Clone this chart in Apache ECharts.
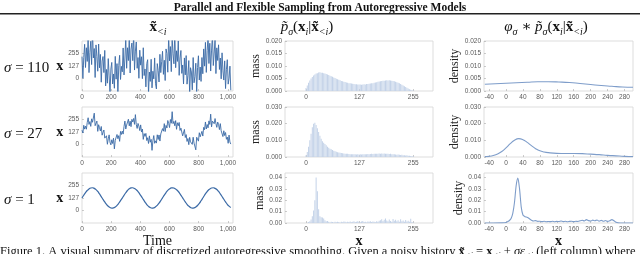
<!DOCTYPE html>
<html><head><meta charset="utf-8">
<script src="https://cdn.jsdelivr.net/npm/echarts@6/dist/echarts.min.js"></script>
<style>html,body{margin:0;padding:0;background:#fff}#c{width:640px;height:254px}</style>
</head><body><div id="c"></div><script>
// ---------- data ----------
const sigmaLabels = ['110', '27', '1'];
const timeStepNoisy = 6;   // time between samples of the noisy histories
const timeStepSmooth = 12; // time between samples of the sigma=1 history
const timeTicks = [0, 200, 400, 600, 800, 1000];
const valueTicks = [0, 127, 255];
const massXTicks = [0, 127, 255];
const densXTicks = [-40, 0, 40, 80, 120, 160, 200, 240, 280];

const history110 = [223,2,216,349,112,314,174,423,60,266,380,142,492,210,306,10,343,224,74,352,109,246,-38,178,224,60,287,-76,92,-48,203,26,-160,96,164,-56,46,-100,226,-7,152,-158,134,237,-10,124,
68,312,36,209,412,104,314,183,410,56,300,362,182,470,86,280,373,104,214,2,289,136,222,-2,314,30,97,-86,152,192,-157,66,-30,196,-96,74,-4,210,-54,-107,152,82,-36,247,60,174,
278,42,186,-21,302,254,64,433,180,326,70,412,252,150,476,110,283,174,384,32,209,286,52,138,-56,210,37,234,-58,32,183,-164,110,66,-116,214,-44,20,156,-137,112,232,-16,117,-30,214,
48,302,126,369,62,284,434,153,360,76,290,442,132,260,406,50,313,184,344,92,209,-4,262,78,-16,180,-103,94,192,-58,3,126,-120];
const history27 = [146,117,196,157,187,156,226,273,205,234,185,262,227,242,320,192,203,239,134,202,172,138,184,95,124,148,65,68,89,2,58,98,22,-4,48,10,64,-45,43,23,102,59,90,32,133,102,
137,106,184,239,158,198,188,258,190,238,182,257,230,266,206,305,204,164,215,188,142,200,127,158,52,111,83,113,40,69,10,88,23,52,-60,38,91,12,37,14,99,51,97,35,108,93,
162,136,213,132,195,169,245,215,173,255,217,335,213,236,191,244,155,222,192,225,143,167,178,88,106,154,71,101,31,61,-2,73,27,45,1,74,14,34,-55,74,67,34,120,78,80,134,
86,175,151,230,158,204,170,241,205,310,180,239,254,212,265,213,175,229,206,152,213,140,147,81,140,91,122,53,76,12,96,25,4];
const history1 = [128,156,182,204,220,230,232,226,213,194,169,142,114,87,62,43,30,24,26,36,52,74,100,
127,155,181,204,221,231,232,225,212,193,168,141,113,86,61,42,30,25,27,37,53,75,101,
129,157,183,205,220,230,231,225,212,194,170,143,115,88,63,44,31,24,26,35,51,73,99,
127,156,182,204,219,230,232,226,214,195,170,143,115,88,63,44,31];

const massBinStep = 3; // histogram bins shown every 3 values of x, starting at 0
const mass110 = [0.0012,0.0022,0.0033,0.0042,0.0050,0.0056,0.0062,0.0066,0.0070,0.0071,
0.0074,0.0075,0.0073,0.0073,0.0071,0.0070,0.0068,0.0066,0.0064,0.0061,
0.0059,0.0057,0.0054,0.0052,0.0049,0.0047,0.0045,0.0043,0.0040,0.0039,
0.0037,0.0036,0.0034,0.0033,0.0031,0.0031,0.0030,0.0029,0.0028,0.0027,
0.0027,0.0026,0.0026,0.0026,0.0025,0.0026,0.0027,0.0026,0.0028,0.0028,
0.0029,0.0030,0.0031,0.0031,0.0033,0.0034,0.0035,0.0037,0.0038,0.0039,
0.0040,0.0041,0.0041,0.0042,0.0043,0.0042,0.0043,0.0042,0.0041,0.0040,
0.0039,0.0037,0.0035,0.0033,0.0031,0.0028,0.0025,0.0022,0.0019,0.0016,
0.0013,0.0010,0.0007,0.0005,0.0003,0.0002];
const mass27 = [0.0010,0.0030,0.0062,0.0100,0.0140,0.0178,0.0200,0.0206,0.0192,0.0172,
0.0150,0.0128,0.0110,0.0095,0.0085,0.0078,0.0070,0.0062,0.0056,0.0050,
0.0046,0.0042,0.0038,0.0034,0.0031,0.0029,0.0027,0.0025,0.0024,0.0022,
0.0021,0.0020,0.0019,0.0019,0.0018,0.0017,0.0017,0.0016,0.0017,0.0016,
0.0015,0.0016,0.0015,0.0016,0.0015,0.0016,0.0017,0.0016,0.0017,0.0018,
0.0017,0.0018,0.0019,0.0018,0.0019,0.0020,0.0019,0.0020,0.0021,0.0020,
0.0021,0.0020,0.0021,0.0020,0.0019,0.0020,0.0018,0.0019,0.0017,0.0016,
0.0017,0.0015,0.0014,0.0015,0.0013,0.0012,0.0013,0.0011,0.0010,0.0009,
0.0010,0.0008,0.0007,0.0006,0.0005,0.0004];
const mass1 = [0,0.0003,0.0008,0.0015,0.0030,0.0060,0.0110,0.0200,0.0400,0.0280,
0.0120,0.0060,0.0050,0.0048,0.0040,0.0025,0.0015,0.0018,0.0010,0.0005,
0.0012,0.0008,0.0004,0.0010,0.0006,0.0012,0.0009,0.0003,0.0011,0.0007,
0.0013,0.0010,0.0005,0.0012,0.0009,0.0014,0.0006,0.0011,0.0015,0.0008,
0.0012,0.0016,0.0010,0.0006,0.0013,0.0017,0.0009,0.0012,0.0005,0.0014,
0.0011,0.0016,0.0008,0.0013,0.0010,0.0006,0.0015,0.0011,0.0019,0.0025,
0.0033,0.0018,0.0028,0.0040,0.0022,0.0015,0.0030,0.0018,0.0012,0.0035,
0.0020,0.0028,0.0015,0.0024,0.0012,0.0032,0.0016,0.0022,0.0010,0.0026,
0.0014,0.0020,0.0012,0.0038,0.0008,0.0004];

const densX110 = [-50,-25,0,25,50,75,100,125,150,175,200,225,250,275,300];
const density110 = [0.0027,0.0029,0.0031,0.0033,0.0035,0.0037,0.0037,0.0036,0.0034,0.0030,0.0026,0.0022,0.0019,0.0016,0.0015];
const densX27 = [-50,-40,-30,-20,-10,0,10,20,30,40,50,60,70,80,90,100,120,140,160,180,200,220,240,260,280,300];
const density27 = [0.0002,0.0004,0.0009,0.0018,0.0033,0.0055,0.0080,0.0101,0.0110,0.0104,0.0088,0.0068,0.0050,0.0037,0.0030,0.0026,0.0022,0.0021,0.0021,0.0020,0.0017,0.0014,0.0010,0.0007,0.0004,0.0002];
const densX1 = [-50,-30,-10,0,4,8,12,16,20,24,28,32,36,40,44,48,52,56,60,65,70,75,80,85,90,95,100,105,110,115,120,125,130,135,140,145,150,155,160,165,170,175,180,185,190,195,200,205,210,215,220,225,230,235,240,245,250,255,260,265,270,285,300];
const density1 = [0,0,0.0001,0.0004,0.0012,0.0022,0.0040,0.0085,0.0180,0.0330,0.0395,0.0300,0.0140,0.0070,0.0058,0.0052,0.0047,0.0035,0.0025,0.0018,0.0021,0.0014,0.0016,0.0012,0.0015,0.0011,0.0013,0.0012,0.0015,0.0011,0.0014,0.0013,0.0017,0.0012,0.0015,0.0011,0.0014,0.0016,0.0012,0.0015,0.0013,0.0019,0.0024,0.0018,0.0030,0.0021,0.0017,0.0025,0.0020,0.0026,0.0016,0.0023,0.0015,0.0022,0.0014,0.0019,0.0030,0.0020,0.0006,0.0001,0,0,0];

// ---------- layout / style ----------
const serif = '"Liberation Serif","DejaVu Serif",serif';
const sans = '"Liberation Sans",Arial,sans-serif';
const colLeft = [82, 285, 484], colW = [151, 148, 149];
const rowTop = [41, 107, 173], rowH = 50;
const lineBlue = '#3b6aa6';
const barBlue = '#c3d2e8';
const densBlue = '#7e9dca';
const tickLabel = {fontSize: 6.5, color: '#5a5a5a', fontFamily: sans, margin: 3};

const grids = [], xAxes = [], yAxes = [], series = [];
const histories = [history110, history27, history1];
const historySteps = [timeStepNoisy, timeStepNoisy, timeStepSmooth];
const masses = [mass110, mass27, mass1];
const densXs = [densX110, densX27, densX1];
const dens = [density110, density27, density1];
const yMaxProb = [0.020, 0.030, 0.044];
const yTickProb = [[0,0.005,0.010,0.015,0.020],[0,0.010,0.020,0.030],[0,0.01,0.02,0.03,0.04]];
const yDigits = [3, 3, 2];

function fmtThousands(v){ return v >= 1000 ? Math.floor(v/1000) + ',' + String(v%1000).padStart(3,'0') : String(v); }

for (let r = 0; r < 3; r++) {
  for (let c = 0; c < 3; c++) {
    const gi = r*3 + c;
    grids.push({left: colLeft[c], top: rowTop[r], width: colW[c], height: rowH, show: true,
      borderColor: '#d4d4d4', borderWidth: 0.8, backgroundColor: 'transparent'});
    const base = {gridIndex: gi, type: 'value', axisLine: {show: false, onZero: false}, splitLine: {show: false},
      axisTick: {show: true, inside: true, length: 2, lineStyle: {color: '#aaa', width: 0.6}}};
    let xa, ya;
    if (c === 0) {
      xa = Object.assign({}, base, {min: 0, max: 1035,
        axisLabel: Object.assign({}, tickLabel, {customValues: timeTicks, formatter: fmtThousands}),
        axisTick: Object.assign({}, base.axisTick, {customValues: timeTicks})});
      ya = Object.assign({}, base, {min: -128, max: 383,
        axisLabel: Object.assign({}, tickLabel, {customValues: valueTicks}),
        axisTick: Object.assign({}, base.axisTick, {customValues: valueTicks}),
        name: 'x', nameLocation: 'middle', nameRotate: 0, nameGap: 10,
        nameTextStyle: {fontFamily: serif, fontWeight: 'bold', fontSize: 14, color: '#111'}});
      if (r === 2) Object.assign(xa, {name: 'Time', nameLocation: 'middle', nameGap: 9,
        nameTextStyle: {fontFamily: serif, fontSize: 14, color: '#111', verticalAlign: 'top'}});
      series.push({type: 'line', xAxisIndex: gi, yAxisIndex: gi, showSymbol: false, animation: false,
        clip: true, data: histories[r].map((v, i) => [i*historySteps[r], v]),
        lineStyle: {color: lineBlue, width: r === 2 ? 1.2 : 1.0, opacity: r === 2 ? 1 : 0.9},
        itemStyle: {color: lineBlue}, smooth: r === 2});
    } else {
      const isMass = c === 1;
      const xt = isMass ? massXTicks : densXTicks;
      xa = Object.assign({}, base, {min: isMass ? -50 : -52, max: isMass ? 302 : 300,
        axisLabel: Object.assign({}, tickLabel, {customValues: xt}),
        axisTick: Object.assign({}, base.axisTick, {customValues: xt})});
      const dg = yDigits[r];
      ya = Object.assign({}, base, {min: 0, max: yMaxProb[r],
        axisLabel: Object.assign({}, tickLabel, {customValues: yTickProb[r], formatter: v => v.toFixed(dg)}),
        axisTick: Object.assign({}, base.axisTick, {customValues: yTickProb[r]}),
        name: isMass ? 'mass' : 'density', nameLocation: 'middle', nameRotate: 90, nameGap: isMass ? 19 : 17,
        nameTextStyle: {fontFamily: serif, fontSize: 12, color: '#222'}});
      if (r === 2) Object.assign(xa, {name: 'x', nameLocation: 'middle', nameGap: 9,
        nameTextStyle: {fontFamily: serif, fontWeight: 'bold', fontSize: 14, color: '#111', verticalAlign: 'top'}});
      if (isMass) {
        series.push({type: 'bar', xAxisIndex: gi, yAxisIndex: gi, animation: false, barWidth: 1,
          data: masses[r].map((v, i) => [i*massBinStep, v]), itemStyle: {color: barBlue}});
      } else {
        series.push({type: 'line', xAxisIndex: gi, yAxisIndex: gi, showSymbol: false, animation: false,
          smooth: r === 2 ? 0.25 : true, data: densXs[r].map((x, i) => [x, dens[r][i]]),
          lineStyle: {color: densBlue, width: 1.1}, itemStyle: {color: densBlue}});
      }
    }
    xAxes.push(xa); yAxes.push(ya);
  }
}

function richSet(size, lh, subSize) {
  return {
    b: {fontFamily: serif, fontWeight: 'bold', fontSize: size, lineHeight: lh, verticalAlign: 'middle', fill: '#111', color: '#111'},
    it: {fontFamily: serif, fontStyle: 'italic', fontSize: size, lineHeight: lh, verticalAlign: 'middle', fill: '#111', color: '#111'},
    n: {fontFamily: serif, fontSize: size, lineHeight: lh, verticalAlign: 'middle', fill: '#111', color: '#111'},
    s: {fontFamily: serif, fontStyle: 'italic', fontSize: subSize, lineHeight: subSize, verticalAlign: 'bottom', fill: '#111', color: '#111'}
  };
}
const subRich = richSet(15, 20, 10);
const capRich = richSet(12.5, 16, 8.5);
const graphics = [
  {type: 'text', x: 320, y: 2, style: {text: 'Parallel and Flexible Sampling from Autoregressive Models',
    font: 'bold 11.5px ' + serif, fill: '#111', align: 'center', verticalAlign: 'top'}},
  {type: 'rect', shape: {x: 0, y: 13, width: 640, height: 1.5}, style: {fill: '#222'}},
  {type: 'text', x: 158, y: 27, style: {text: '{b|x̃}{s|<i}', rich: subRich, align: 'center', verticalAlign: 'middle'}},
  {type: 'text', x: 307, y: 27, style: {text: '{it|p̃}{s|σ}{n|(}{b|x}{s|i}{n||}{b|x̃}{s|<i}{n|)}', rich: subRich, align: 'center', verticalAlign: 'middle'}},
  {type: 'text', x: 546, y: 27, style: {text: '{it|φ}{s|σ}{n| ∗ }{it|p̃}{s|σ}{n|(}{b|x}{s|i}{n||}{b|x̃}{s|<i}{n|)}', rich: subRich, align: 'center', verticalAlign: 'middle'}},
  {type: 'text', x: 0, y: 244, style: {text: '{n|Figure 1. A visual summary of discretized autoregressive smoothing. Given a noisy history }{b|x̃}{s|<i}{n| = }{b|x}{s|<i}{n| + }{it|σε}{s|<i}{n| (left column) where}',
    rich: capRich, align: 'left', verticalAlign: 'top'}}
];
const rowLabelY = [68, 134, 200];
for (let r = 0; r < 3; r++) {
  graphics.push({type: 'text', x: 4, y: rowLabelY[r], style: {text: '{it|σ}{n| = ' + sigmaLabels[r] + '}', rich: subRich, align: 'left', verticalAlign: 'middle'}});
}

const chart = echarts.init(document.getElementById('c'), null, {renderer: 'canvas'});
chart.setOption({animation: false, backgroundColor: '#fff', grid: grids, xAxis: xAxes, yAxis: yAxes, series: series, graphic: graphics});
</script></body></html>
